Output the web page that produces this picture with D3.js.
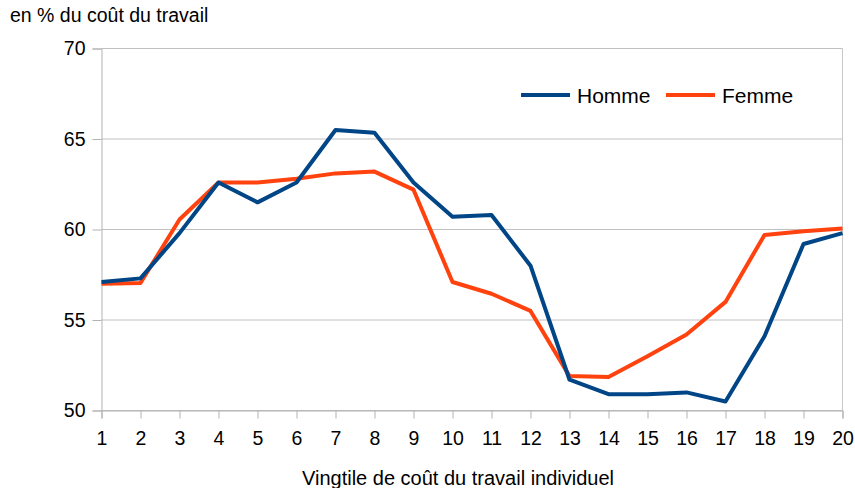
<!DOCTYPE html>
<html lang="fr">
<head>
	<meta charset="utf-8">
	<title>Vingtile de coût du travail</title>
	<script src="https://d3js.org/d3.v7.min.js"></script>
	<style>
		body { margin: 0; background: #fff; }
		text { font-family: "Liberation Sans", Arial, sans-serif; fill: #000; }
	</style>
</head>
<body>
	<script>
	// Données
	var vingtiles = d3.range(1, 21);
	var homme = [57.1, 57.3, 59.8, 62.6, 61.5, 62.6, 65.5, 65.35, 62.6, 60.7,
		60.8, 58.0, 51.7, 50.9, 50.9, 51.0, 50.5, 54.1, 59.2, 59.8];
	var femme = [57.0, 57.05, 60.55, 62.6, 62.6, 62.8, 63.1, 63.2, 62.2, 57.1,
		56.45, 55.5, 51.9, 51.85, 53.0, 54.2, 56.0, 59.7, 59.9, 60.05];
	var yTicks = [50, 55, 60, 65, 70];
	var series = [
		{ name: "Homme", values: homme, color: "#004586" },
		{ name: "Femme", values: femme, color: "#ff420e" }
	];

	var w = 855, h = 488;
	var pLeft = 101.5, pRight = 842.5, pTop = 48.5, pBottom = 410.5;

	var svg = d3.select("body").append("svg")
		.attr("width", w)
		.attr("height", h);

	var x = d3.scaleLinear().domain([1, 20]).range([pLeft, pRight]);
	var y = d3.scaleLinear().domain([50, 70]).range([pBottom, pTop]);

	// grille horizontale
	svg.append("g")
		.selectAll("line")
		.data(yTicks)
		.enter()
		.append("line")
		.attr("x1", pLeft)
		.attr("x2", pRight)
		.attr("y1", function(d) { return y(d); })
		.attr("y2", function(d) { return y(d); })
		.attr("stroke", "#c0c0c0")
		.attr("stroke-width", 1);

	// bord droit
	svg.append("line")
		.attr("x1", pRight).attr("x2", pRight)
		.attr("y1", pTop).attr("y2", pBottom)
		.attr("stroke", "#c8c8c8");

	// axe Y
	var yAxis = svg.append("g")
		.attr("transform", "translate(" + pLeft + ",0)")
		.call(d3.axisLeft(y).tickValues(yTicks).tickSize(9).tickPadding(7));
	yAxis.select(".domain").attr("stroke", "#b3b3b3");
	yAxis.selectAll(".tick line").attr("stroke", "#b3b3b3");
	yAxis.selectAll("text")
		.attr("font-size", 19.5)
		.attr("font-family", "Liberation Sans, Arial, sans-serif")
		.attr("fill", "#000");

	// axe X
	var xAxis = svg.append("g")
		.attr("transform", "translate(0," + pBottom + ")")
		.call(d3.axisBottom(x).tickValues(vingtiles).tickFormat(d3.format("d")).tickSize(8).tickPadding(12.5));
	xAxis.select(".domain").attr("stroke", "#b3b3b3");
	xAxis.selectAll(".tick line").attr("stroke", "#b3b3b3");
	xAxis.selectAll("text")
		.attr("font-size", 19.5)
		.attr("font-family", "Liberation Sans, Arial, sans-serif")
		.attr("fill", "#000");

	// courbes (Femme d'abord, Homme au-dessus)
	var line = d3.line()
		.x(function(d, i) { return x(vingtiles[i]); })
		.y(function(d) { return y(d); });

	svg.selectAll(".serie")
		.data(series.slice().reverse())
		.enter()
		.append("path")
		.attr("class", "serie")
		.attr("d", function(s) { return line(s.values); })
		.attr("fill", "none")
		.attr("stroke", function(s) { return s.color; })
		.attr("stroke-width", 4)
		.attr("stroke-linejoin", "round");

	// légende
	var legend = svg.append("g");
	var lx = [521, 666];
	series.forEach(function(s, i) {
		legend.append("line")
			.attr("x1", lx[i]).attr("x2", lx[i] + 49)
			.attr("y1", 95).attr("y2", 95)
			.attr("stroke", s.color)
			.attr("stroke-width", 4);
		legend.append("text")
			.attr("x", lx[i] + 56)
			.attr("y", 103)
			.attr("font-size", 21)
			.text(s.name);
	});

	// titres
	svg.append("text")
		.attr("x", 10)
		.attr("y", 22)
		.attr("font-size", 19.5)
		.text("en % du coût du travail");

	svg.append("text")
		.attr("x", 458)
		.attr("y", 485)
		.attr("text-anchor", "middle")
		.attr("font-size", 20)
		.text("Vingtile de coût du travail individuel");
	</script>
</body>
</html>
